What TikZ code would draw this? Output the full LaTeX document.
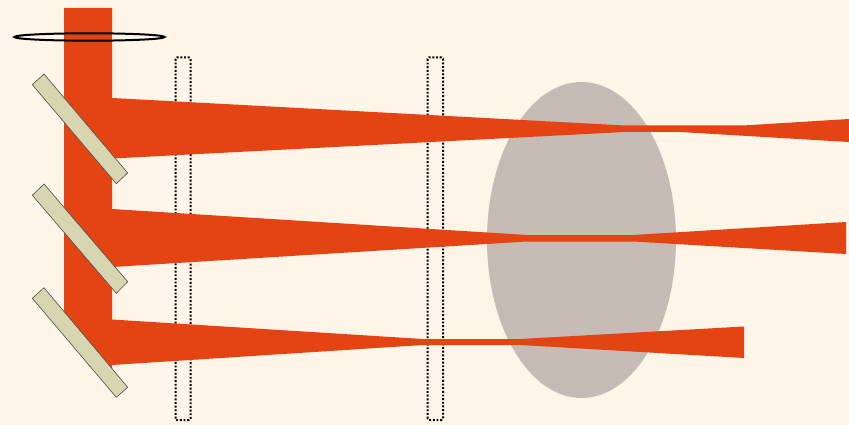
\documentclass[tikz,border=0pt]{standalone}
\definecolor{bgcream}{RGB}{255,245,232}
\definecolor{beamred}{RGB}{228,68,20}
\definecolor{lensgrey}{RGB}{198,188,182}
\definecolor{mirrorfill}{RGB}{216,214,176}
\tikzset{
  x=1pt,y=-1pt,
  beam/.style={fill=beamred,draw=none},
  mirror/.style={fill=mirrorfill,draw=black!70,line width=0.6pt},
  slab/.style={draw=black,line width=2pt,dash pattern=on 1.9pt off 1.75pt,rounded corners=1.5pt},
}
\begin{document}
\begin{tikzpicture}
\useasboundingbox (0,0) rectangle (849,425);
\fill[bgcream] (0,0) rectangle (849,425);
% lens
\fill[lensgrey] (581.5,240) ellipse [x radius=94.5,y radius=158];
% dotted slabs
\draw[slab] (175.5,420) -- (175.5,57.5) -- (190.5,57.5) -- (190.5,420) -- cycle;
\draw[slab] (427.5,420) -- (427.5,57.5) -- (443,57.5) -- (443,420) -- cycle;
% main beam, cut by the third mirror
\fill[beam] (64,8) -- (112,8) -- (112,369) -- (64,315) -- cycle;
% beams
\fill[beam] (112,98) -- (625,125.5) -- (743,125.5) -- (849,119) -- (849,142) -- (680,132) -- (625,132) -- (112,158.5) -- cycle;
\fill[beam] (112,209) -- (527,235) -- (633,235) -- (846,222) -- (846,254) -- (633,241.5) -- (527,241.5) -- (112,267) -- cycle;
\fill[beam] (112,319.5) -- (423,339) -- (520,339) -- (744,326.5) -- (744,358) -- (520,345) -- (423,345) -- (112,365) -- cycle;
% mirrors
\draw[mirror] (44,74) -- (127.7,173) -- (116.3,183.7) -- (32.3,84.7) -- cycle;
\draw[mirror] (44,184) -- (127.7,281.7) -- (116.3,293.3) -- (32.3,195.3) -- cycle;
\draw[mirror] (44,287.7) -- (127.7,387.3) -- (116.3,397.3) -- (32.3,298.3) -- cycle;
% ring
\draw[black,line width=2pt] (89.5,37) ellipse [x radius=75,y radius=3.7];
\end{tikzpicture}
\end{document}
